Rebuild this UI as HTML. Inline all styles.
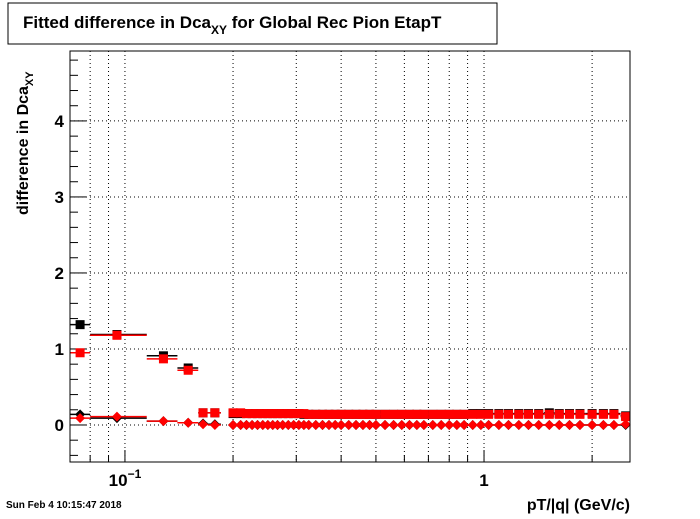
<!DOCTYPE html>
<html><head><meta charset="utf-8"><style>
body{margin:0;background:#fff;font-family:"Liberation Sans",sans-serif}
svg text{font-family:"Liberation Sans",sans-serif;font-weight:bold}
</style></head><body>
<svg id="c" width="700" height="514" xmlns="http://www.w3.org/2000/svg">
<rect x="0" y="0" width="700" height="514" fill="#fff"/>
<rect x="8" y="3" width="489" height="41" fill="#fff" stroke="#000"/>
<text x="23" y="28" font-size="17">Fitted difference in Dca<tspan font-size="12" dy="6">XY</tspan><tspan dy="-6"> for Global Rec Pion EtapT</tspan></text>
<g id="grid"></g>
<g id="axes"></g>
<g id="marks"></g>
<rect x="70" y="51" width="560" height="411" fill="none" stroke="#000"/>
<text x="0" y="0" font-size="16" transform="translate(28,215) rotate(-90)">difference in Dca<tspan font-size="11" dy="5">XY</tspan></text>
<text x="630" y="510" font-size="16" text-anchor="end">pT/|q| (GeV/c)</text>
<text x="6" y="508" font-size="10">Sun Feb  4 10:15:47 2018</text>
</svg>
<script>
const xCenters=[0.075,0.095,0.128,0.150,0.165,0.178,0.200,0.210,0.218,0.226,0.234,0.242,0.250,0.258,0.266,0.275,0.285,0.295,0.305,0.315,0.325,0.34,0.355,0.37,0.385,0.40,0.42,0.44,0.46,0.48,0.50,0.53,0.56,0.59,0.62,0.65,0.68,0.72,0.76,0.80,0.84,0.88,0.93,0.98,1.03,1.1,1.17,1.25,1.33,1.42,1.52,1.62,1.73,1.85,2.0,2.15,2.3,2.48];
const xLo=[0.0703,0.08,0.115,0.14,0.16,0.17,0.195,0.205,0.214,0.222,0.23,0.238,0.246,0.254,0.262,0.27,0.28,0.29,0.3,0.31,0.32,0.332,0.347,0.362,0.377,0.392,0.41,0.43,0.45,0.47,0.49,0.515,0.545,0.575,0.605,0.635,0.665,0.70,0.74,0.78,0.82,0.86,0.905,0.955,1.005,1.065,1.135,1.21,1.29,1.375,1.47,1.57,1.675,1.79,1.92,2.07,2.22,2.4];
const xHi=[0.08,0.115,0.14,0.16,0.17,0.185,0.205,0.214,0.222,0.23,0.238,0.246,0.254,0.262,0.27,0.28,0.29,0.3,0.31,0.32,0.332,0.347,0.362,0.377,0.392,0.41,0.43,0.45,0.47,0.49,0.515,0.545,0.575,0.605,0.635,0.665,0.70,0.74,0.78,0.82,0.86,0.905,0.955,1.005,1.065,1.135,1.21,1.29,1.375,1.47,1.57,1.675,1.79,1.92,2.07,2.22,2.4,2.55];
const blackSq=[1.32,1.19,0.91,0.75,0.16,0.16,0.15,0.15,0.15,0.15,0.15,0.15,0.15,0.15,0.15,0.15,0.15,0.15,0.15,0.14,0.14,0.14,0.14,0.14,0.14,0.14,0.14,0.14,0.14,0.14,0.14,0.14,0.14,0.14,0.14,0.14,0.14,0.14,0.14,0.14,0.14,0.14,0.15,0.15,0.15,0.15,0.15,0.15,0.15,0.15,0.16,0.15,0.15,0.15,0.15,0.15,0.15,0.12];
const redSq=[0.95,1.18,0.87,0.72,0.16,0.16,0.16,0.16,0.15,0.15,0.15,0.15,0.15,0.15,0.15,0.15,0.15,0.15,0.15,0.15,0.14,0.14,0.14,0.14,0.14,0.14,0.14,0.14,0.14,0.14,0.14,0.14,0.14,0.14,0.14,0.14,0.14,0.14,0.14,0.14,0.14,0.14,0.14,0.14,0.14,0.14,0.14,0.14,0.14,0.14,0.14,0.14,0.14,0.14,0.14,0.14,0.14,0.11];
const blackDi=[0.14,0.09,0.05,0.03,0.02,0.01,0,0,0,0,0,0,0,0,0,0,0,0,0,0,0,0,0,0,0,0,0,0,0,0,0,0,0,0,0,0,0,0,0,0,0,0,0,0,0,0,0,0,0,0,0,0,0,0,0,0,0,0];
const redDi=[0.09,0.11,0.05,0.03,0.01,0,0,0,0,0,0,0,0,0,0,0,0,0,0,0,0,0,0,0,0,0,0,0,0,0,0,0,0,0,0,0,0,0,0,0,0,0,0,0,0,0,0,0,0,0,0,0,0,0,0,0,0,0.01];
const yTicks=[0,1,2,3,4];
const xGrid=[0.08,0.09,0.1,0.2,0.3,0.4,0.5,0.6,0.7,0.8,0.9,1,2];
const xLabels=[[0.1,"10"],[1,"1"]];
const NS="http://www.w3.org/2000/svg";
const X0=70,X1=630,Y0=51,Y1=462,xmin=Math.log10(0.0703),xmax=Math.log10(2.55),ymin=-0.487,ymax=4.92;
const sx=v=>X0+(Math.log10(v)-xmin)/(xmax-xmin)*(X1-X0);
const sy=v=>Y1-(v-ymin)/(ymax-ymin)*(Y1-Y0);
function mk(t,a,p){const e=document.createElementNS(NS,t);for(const k in a)e.setAttribute(k,a[k]);p.appendChild(e);return e;}
const grid=document.getElementById('grid'),axes=document.getElementById('axes'),marks=document.getElementById('marks');
xGrid.forEach(v=>{const x=sx(v);
const g=mk('line',{x1:x,x2:x,y1:Y0,y2:Y1,stroke:'#000','stroke-dasharray':'1,3'},grid);


const t=mk('line',{x1:x,x2:x,y1:Y1,y2:Y1-([0.1,1].includes(v)?12:7),stroke:'#000'},axes);

});
yTicks.forEach(v=>{const y=sy(v);
const g=mk('line',{x1:X0,x2:X1,y1:y,y2:y,stroke:'#000','stroke-dasharray':'1,3'},grid);


const l=mk('text',{x:X0-6,y:y+6,'font-size':17,'text-anchor':'end'},axes);l.textContent=v;

});
for(let v=-0.4;v<4.95;v+=0.2){const y=sy(v);const major=Math.abs(v-Math.round(v))<0.01;
const t=mk('line',{x1:X0,x2:X0+(major?16:8),y1:y,y2:y,stroke:'#000'},axes);

}
xLabels.forEach(([v,s])=>{const l=mk('text',{x:sx(v),y:486,'font-size':17,'text-anchor':'middle'},axes);l.textContent=s;
if(v===0.1){const sp=mk('tspan',{dy:-8,'font-size':12},l);sp.textContent='−1';}

});
function series(vals,color,shape,name){vals.forEach((v,i)=>{const x=sx(xCenters[i]),y=sy(v);
const e=mk('line',{x1:sx(xLo[i]),x2:sx(xHi[i]),y1:y,y2:y,stroke:color,'stroke-width':1.5},marks);


let m;if(shape==='sq')m=mk('rect',{x:x-4.5,y:y-4.5,width:9,height:9,fill:color},marks);
else m=mk('polygon',{points:`${x},${y-5} ${x+5},${y} ${x},${y+5} ${x-5},${y}`,fill:color},marks);

});}
series(blackSq,'#000','sq','black-square');
series(blackDi,'#000','di','black-diamond');
series(redSq,'#f00','sq','red-square');
series(redDi,'#f00','di','red-diamond');
</script>
</body></html>
